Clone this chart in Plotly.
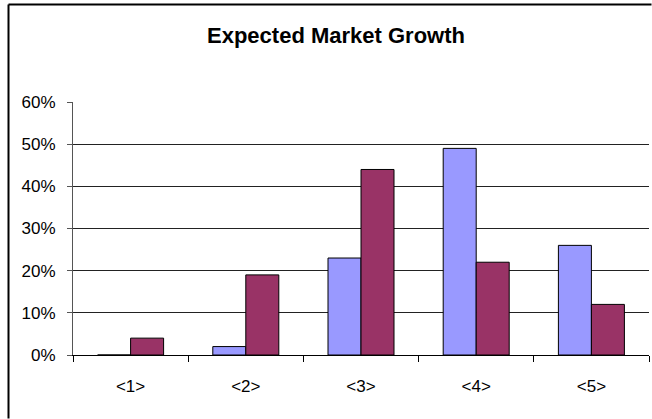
import plotly.graph_objects as go

categories = ["<1>", "<2>", "<3>", "<4>", "<5>"]
series_a = [0.00, 0.02, 0.23, 0.49, 0.26]
series_b = [0.04, 0.19, 0.44, 0.22, 0.12]
y_ticks = [0, 0.1, 0.2, 0.3, 0.4, 0.5, 0.6]
y_tick_labels = ["0%", "10%", "20%", "30%", "40%", "50%", "60%"]

W, H = 652, 419
ML, MR, MT, MB = 73, 3, 102, 64
pw, ph = W - ML - MR, H - MT - MB

def px_x(x):
    return (x - ML) / pw

def px_y(y):
    return (H - MB - y) / ph

fig = go.Figure()
fig.add_trace(go.Bar(x=categories, y=series_a, name="A",
                     marker=dict(color="#9999FF", line=dict(color="black", width=1))))
fig.add_trace(go.Bar(x=categories, y=series_b, name="B",
                     marker=dict(color="#993366", line=dict(color="black", width=1))))

fig.update_layout(
    width=W, height=H,
    margin=dict(l=ML, r=MR, t=MT, b=MB),
    paper_bgcolor="white", plot_bgcolor="white",
    showlegend=False,
    barmode="group", bargap=0.427, bargroupgap=0,
    font=dict(family="Liberation Sans, Arial", size=17, color="black"),
    title=dict(text="<b>Expected Market Growth</b>", x=336 / W, xanchor="center",
               xref="container", yref="container", y=1 - 35.5 / H, yanchor="middle",
               font=dict(family="Liberation Sans, Arial", size=22, color="black")),
    xaxis=dict(showline=True, linecolor="black", linewidth=1,
               ticks="outside", tickson="boundaries", ticklen=6, tickcolor="black",
               showgrid=False, ticklabelstandoff=16),
    yaxis=dict(range=[0, 0.6], tickvals=y_ticks, ticktext=y_tick_labels,
               showline=True, linecolor="#555", linewidth=1,
               ticks="outside", ticklen=5, tickcolor="#555",
               showgrid=True, gridcolor="#222", gridwidth=1,
               zeroline=False, ticklabelstandoff=8),
    shapes=[
        dict(type="line", xref="paper", yref="paper",
             x0=px_x(8.5), x1=px_x(W - 0.5), y0=px_y(4.5), y1=px_y(4.5),
             line=dict(color="black", width=2)),
        dict(type="line", xref="paper", yref="paper",
             x0=px_x(8.5), x1=px_x(8.5), y0=px_y(4.5), y1=px_y(H - 0.5),
             line=dict(color="black", width=2)),
    ],
)

fig.write_html("out.html", config={"displayModeBar": False},
               post_script="document.body.style.margin='0';document.body.style.overflow='hidden';")
